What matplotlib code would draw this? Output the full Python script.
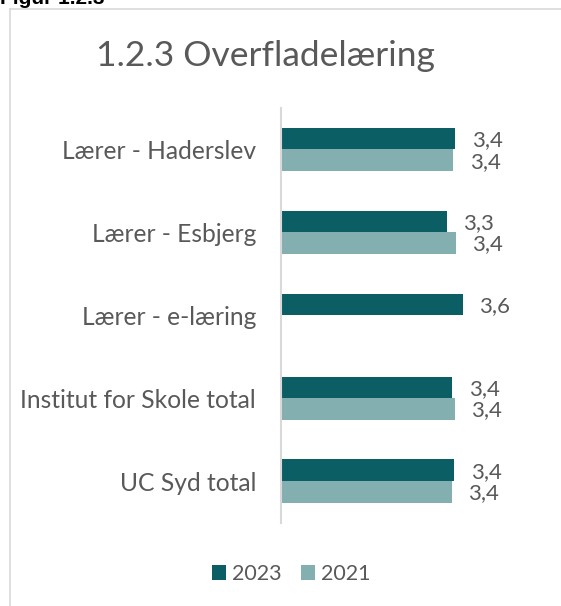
import matplotlib
matplotlib.use("Agg")
import matplotlib.pyplot as plt
from matplotlib.lines import Line2D
from matplotlib.patches import Patch
import numpy as np

categories = ["Lærer - Haderslev", "Lærer - Esbjerg", "Lærer - e-læring",
              "Institut for Skole total", "UC Syd total"]
values_2023 = [3.43, 3.26, 3.58, 3.37, 3.41]
values_2021 = [3.39, 3.44, np.nan, 3.42, 3.36]
series_names = ["2023", "2021"]
title = "1.2.3 Overfladelæring"
fig_label = "Figur 1.2.3"

c2023 = "#0b5e63"
c2021 = "#84afb1"
txt = "#595959"
font = "Lato"

W, H = 561, 606
fig = plt.figure(figsize=(W / 100, H / 100), dpi=100)

# chart border (light gray, left and top)
fig.add_artist(Line2D([9.5 / W, 9.5 / W], [0, 1 - 9 / H], transform=fig.transFigure,
                      color="#d9d9d9", lw=1.2))
fig.add_artist(Line2D([9.5 / W, 1], [1 - 9 / H, 1 - 9 / H], transform=fig.transFigure,
                      color="#d9d9d9", lw=1.2))

# cut-off figure caption at the very top
fig.text(0.0, 1 - 3.5 / H, fig_label, fontsize=15, fontweight="bold",
         family="Liberation Sans", color="black", va="baseline", ha="left")

ax = fig.add_axes([281 / W, 1 - 522.5 / H, 254 / W, (522.5 - 108) / H])

y = np.arange(len(categories))
h = 0.26
b1 = ax.barh(y - h / 2, values_2023, height=h, color=c2023, label=series_names[0])
b2 = ax.barh(y + h / 2, values_2021, height=h, color=c2021, label=series_names[1])

ax.set_xlim(0, 5)
ax.set_ylim(len(categories) - 0.5, -0.5)
ax.set_yticks(y)
ax.set_yticklabels(categories, fontsize=17.7, color=txt, family=font)
ax.tick_params(axis="y", length=0, pad=18)
ax.set_xticks([])
for s in ["top", "right", "bottom"]:
    ax.spines[s].set_visible(False)
ax.spines["left"].set_color("#d9d9d9")
ax.spines["left"].set_linewidth(1.5)

for bars, vals in ((b1, values_2023), (b2, values_2021)):
    for rect, v in zip(bars, vals):
        if np.isnan(v):
            continue
        ax.annotate(f"{v:.1f}".replace(".", ","),
                    xy=(rect.get_width(), rect.get_y() + rect.get_height() / 2),
                    xytext=(11.8, -1), textcoords="offset points",
                    ha="left", va="center", fontsize=16, color=txt, family=font)

fig.text(265 / W, 1 - 66 / H, title, fontsize=25.5, color=txt, family=font,
         ha="center", va="baseline")

handles = [Patch(facecolor=c2023), Patch(facecolor=c2021)]
fig.legend(handles, series_names, loc="center", bbox_to_anchor=(291.5 / W, 1 - 574 / H),
           ncol=2, frameon=False, prop={"family": font, "size": 15.5},
           labelcolor=txt, handlelength=0.64, handleheight=0.64,
           handletextpad=0.3, columnspacing=0.9, borderpad=0)

fig.savefig("out.png", dpi=100)
